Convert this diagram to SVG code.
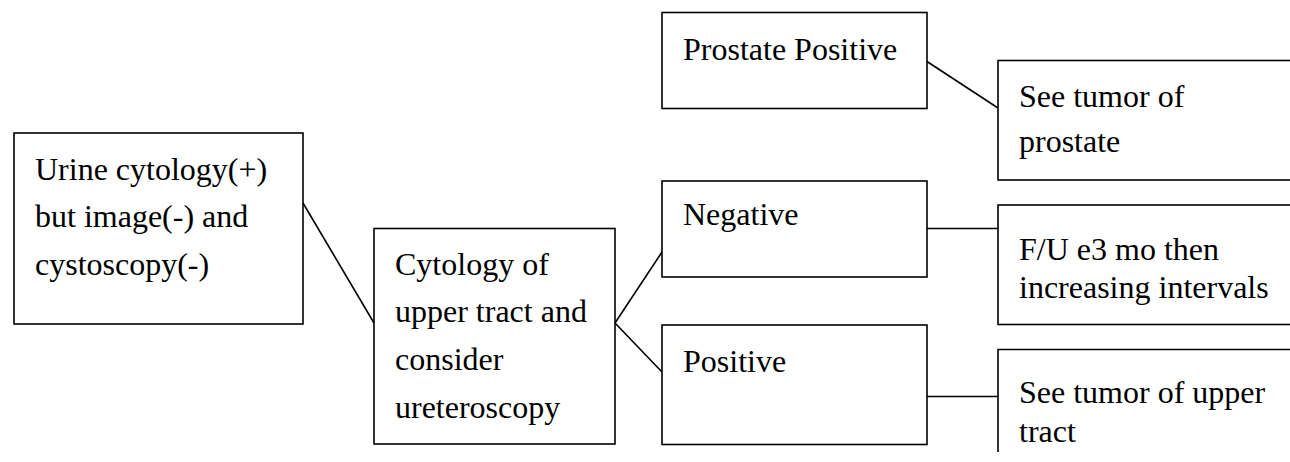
<svg xmlns="http://www.w3.org/2000/svg" width="1290" height="462" viewBox="0 0 1290 462">
<style>
.box{fill:#fff;stroke:#000;stroke-width:1.6}
.t{font-family:"Liberation Serif","Times New Roman",serif;font-size:32px;fill:#000}
.c{stroke:#000;stroke-width:1.6;fill:none}
</style>
<rect width="1290" height="462" fill="#fff"/>
<g id="connectors">
<line class="c" x1="303" y1="203" x2="374" y2="323"/>
<line class="c" x1="615" y1="323" x2="662" y2="252"/>
<line class="c" x1="615" y1="323" x2="662" y2="372"/>
<line class="c" x1="927" y1="61.5" x2="998" y2="108"/>
<line class="c" x1="927" y1="228.5" x2="998" y2="228.5"/>
<line class="c" x1="927" y1="396.5" x2="998" y2="396.5"/>
</g>
<g id="urine">
<rect class="box" x="14" y="133" width="289" height="191"/>
<text class="t" x="35" y="180">Urine cytology(+)</text>
<text class="t" x="35" y="227">but image(-) and</text>
<text class="t" x="35" y="275">cystoscopy(-)</text>
</g>
<g id="cytology">
<rect class="box" x="374" y="228.5" width="241" height="215.5"/>
<text class="t" x="395" y="275">Cytology of</text>
<text class="t" x="395" y="322">upper tract and</text>
<text class="t" x="395" y="370">consider</text>
<text class="t" x="395" y="418">ureteroscopy</text>
</g>
<g id="prostate-positive">
<rect class="box" x="662" y="12.5" width="265" height="96"/>
<text class="t" x="683" y="60">Prostate Positive</text>
</g>
<g id="negative">
<rect class="box" x="662" y="181" width="265" height="96"/>
<text class="t" x="683" y="225">Negative</text>
</g>
<g id="positive">
<rect class="box" x="662" y="325" width="265" height="119.5"/>
<text class="t" x="683" y="372">Positive</text>
</g>
<g id="see-prostate">
<rect class="box" x="998" y="60.5" width="310" height="119.5"/>
<text class="t" x="1019" y="107">See tumor of</text>
<text class="t" x="1019" y="152">prostate</text>
</g>
<g id="fu">
<rect class="box" x="998" y="205" width="310" height="119.5"/>
<text class="t" x="1019" y="260">F/U e3 mo then</text>
<text class="t" x="1019" y="298">increasing intervals</text>
</g>
<g id="see-upper">
<path class="box" d="M1300,349.5 H998 V452"/>
<text class="t" x="1019" y="403">See tumor of upper</text>
<text class="t" x="1019" y="442">tract</text>
</g>
</svg>
